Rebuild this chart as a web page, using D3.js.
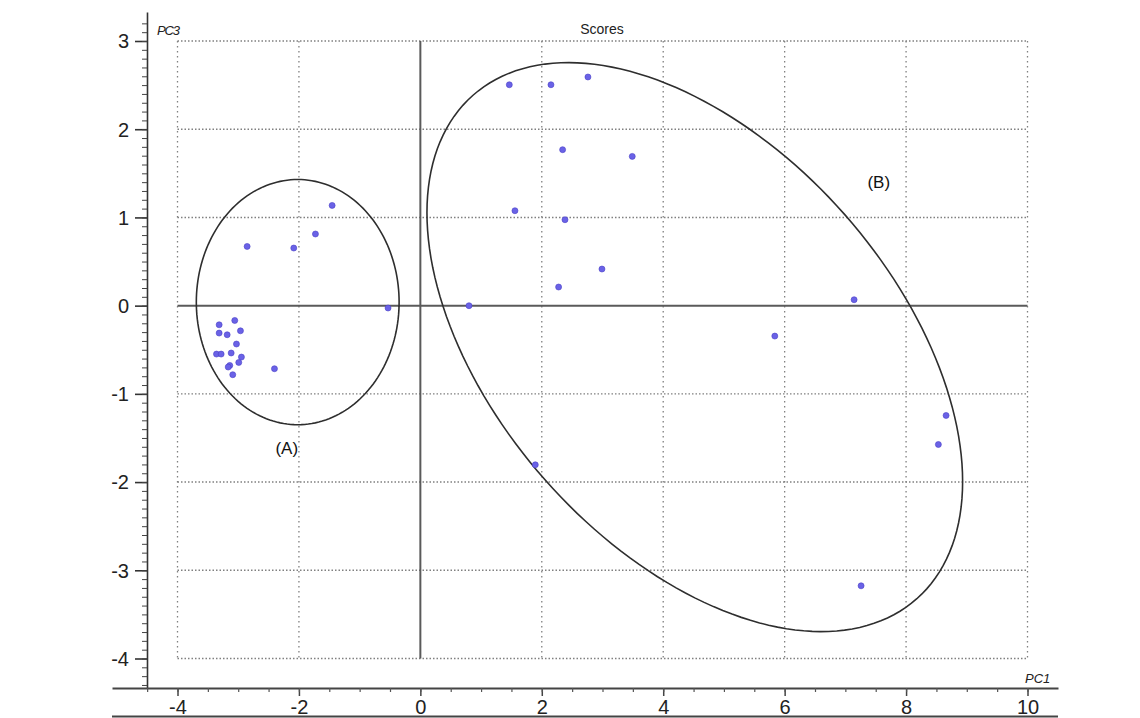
<!DOCTYPE html>
<html><head><meta charset="utf-8">
<script src="https://cdn.jsdelivr.net/npm/d3@7"></script>
<style>
html,body{margin:0;padding:0;background:#fff;}
svg{display:block;}
</style></head>
<body>
<svg id="c" width="1140" height="718"></svg>
<script>
// ---- data ----
const pc1 = [-3.057,-3.314,-3.314,-3.182,-2.963,-3.029,-3.358,-3.281,-3.116,-2.947,-2.991,-3.139,-3.165,-3.090,-2.403,-0.532,
             -1.453,-1.728,-2.853,-2.085,
             1.465,2.151,2.760,2.343,3.490,1.558,2.382,2.991,2.277,0.801,
             7.144,5.838,8.659,8.532,1.893,7.259];
const pc3 = [-0.168,-0.217,-0.311,-0.330,-0.285,-0.435,-0.549,-0.549,-0.537,-0.583,-0.644,-0.678,-0.696,-0.783,-0.715,-0.027,
             1.136,0.812,0.671,0.653,
             2.504,2.504,2.592,1.768,1.692,1.076,0.974,0.415,0.211,-0.001,
             0.067,-0.345,-1.245,-1.574,-1.804,-3.176];
const xTicks = [-4,-2,0,2,4,6,8,10];
const yTicks = [-4,-3,-2,-1,0,1,2,3];
const groupNames = ["(A)","(B)"];
// ellipse: centre, variance-like terms (data units)
const ellCx = [-2.02, 4.52];
const ellCy = [0.04, -0.47];
const ellSxx = [2.789, 19.46];
const ellSyy = [1.932, 10.40];
const ellSxy = [0, -6.72];
const labelX = [-2.2, 7.55];
const labelY = [-1.68, 1.33];

// ---- drawing ----
const svg = d3.select("#c");
const x = d3.scaleLinear().domain([-4,10]).range([177.5,1027.5]);
const y = d3.scaleLinear().domain([-4,3]).range([658.5,41]);
const xAxisY = 688, yAxisX = 147;
const font = "'Liberation Sans', Arial, sans-serif";
const fmt = d => String(d);   // plain hyphen-minus as in the original

// grid
const gridX = xTicks.filter(v=>v!==0), gridY = yTicks.filter(v=>v!==0);
svg.append("g").selectAll("line").data(gridX).join("line")
  .attr("x1",d=>x(d)).attr("x2",d=>x(d)).attr("y1",y(3)).attr("y2",y(-4))
  .attr("stroke","#808080").attr("stroke-width",1.3).attr("stroke-dasharray","1.5,3.5");
svg.append("g").selectAll("line").data(gridY).join("line")
  .attr("x1",x(-4)).attr("x2",x(10)).attr("y1",d=>y(d)).attr("y2",d=>y(d))
  .attr("stroke","#808080").attr("stroke-width",1.4).attr("stroke-dasharray","1.5,2");

// zero lines
svg.append("line").attr("x1",x(0)).attr("x2",x(0)).attr("y1",y(3)).attr("y2",y(-4))
  .attr("stroke","#5a5a5a").attr("stroke-width",2);
svg.append("line").attr("x1",x(-4)).attr("x2",x(10)).attr("y1",y(0)).attr("y2",y(0))
  .attr("stroke","#5a5a5a").attr("stroke-width",2);

// ellipses
const line = d3.line().x(d=>x(d[0])).y(d=>y(d[1]));
ellCx.forEach((cx,i)=>{
  const l11 = Math.sqrt(ellSxx[i]);
  const l21 = ellSxy[i]/l11;
  const l22 = Math.sqrt(ellSyy[i]-l21*l21);
  const pts = d3.range(0,361,2).map(t=>{
    const a = t*Math.PI/180, c=Math.cos(a), s=Math.sin(a);
    return [cx + l11*c, ellCy[i] + l21*c + l22*s];
  });
  svg.append("path").attr("d",line(pts)+"Z").attr("fill","none")
    .attr("stroke","#2e2e2e").attr("stroke-width",1.6);
});

// points
svg.append("g").selectAll("circle").data(pc1.map((v,i)=>[v,pc3[i]])).join("circle")
  .attr("cx",d=>x(d[0])).attr("cy",d=>y(d[1])).attr("r",3)
  .attr("fill","#6a62e6").attr("stroke","#4a40c8").attr("stroke-width",0.6);

// group labels
svg.append("g").selectAll("text").data(groupNames).join("text")
  .attr("x",(d,i)=>x(labelX[i])).attr("y",(d,i)=>y(labelY[i]))
  .attr("font-family",font).attr("font-size",17).attr("fill","#111")
  .attr("text-anchor","middle").text(d=>d);

// y axis
const yA = y.copy().domain([y.invert(xAxisY), y.invert(12)]).range([xAxisY,12]);
const gy = svg.append("g").attr("transform",`translate(${yAxisX},0)`);
gy.call(d3.axisLeft(yA).tickValues(yTicks).tickSize(12).tickSizeOuter(0).tickPadding(6).tickFormat(fmt));
gy.select(".domain").attr("stroke","#333").attr("stroke-width",1.6);
gy.selectAll(".tick line").attr("stroke","#333").attr("stroke-width",1.6);
gy.selectAll(".tick text").attr("font-family",font).attr("font-size",20).attr("fill","#222").attr("dy","0.34em");
const gym = svg.append("g").attr("transform",`translate(${yAxisX},0)`);
gym.call(d3.axisLeft(yA).tickValues(d3.range(-43,33).map(v=>v/10)).tickSize(5).tickSizeOuter(0).tickFormat(""));
gym.select(".domain").remove();
gym.selectAll(".tick line").attr("stroke","#444").attr("stroke-width",1);

// x axis
const xA = x.copy().domain([x.invert(112), x.invert(1058)]).range([112,1058]);
const gx = svg.append("g").attr("transform",`translate(0,${xAxisY})`);
gx.call(d3.axisBottom(xA).tickValues(xTicks).tickSize(8).tickSizeOuter(0).tickPadding(4).tickFormat(fmt));
gx.select(".domain").attr("stroke","#444").attr("stroke-width",1.8);
gx.selectAll(".tick line").attr("stroke","#444").attr("stroke-width",1.5);
gx.selectAll(".tick text").attr("font-family",font).attr("font-size",20).attr("fill","#222");
const gxm = svg.append("g").attr("transform",`translate(0,${xAxisY})`);
gxm.call(d3.axisBottom(xA).tickValues(d3.range(-9,21).map(v=>v/2)).tickSize(4).tickSizeOuter(0).tickFormat(""));
gxm.select(".domain").remove();
gxm.selectAll(".tick line").attr("stroke","#555").attr("stroke-width",1.2);
// bottom border line
svg.append("line").attr("x1",112).attr("x2",1058).attr("y1",716.5).attr("y2",716.5)
  .attr("stroke","#444").attr("stroke-width",1.8);

// titles
svg.append("text").attr("x",157).attr("y",35).attr("font-family",font).attr("font-style","italic")
  .attr("font-size",13).attr("fill","#222").attr("textLength",23).text("PC3");
svg.append("text").attr("x",602).attr("y",34).attr("text-anchor","middle").attr("font-family",font)
  .attr("font-size",14).attr("fill","#222").text("Scores");
svg.append("text").attr("x",1025).attr("y",683).attr("font-family",font).attr("font-style","italic")
  .attr("font-size",13).attr("fill","#222").text("PC1");
</script>
</body></html>
